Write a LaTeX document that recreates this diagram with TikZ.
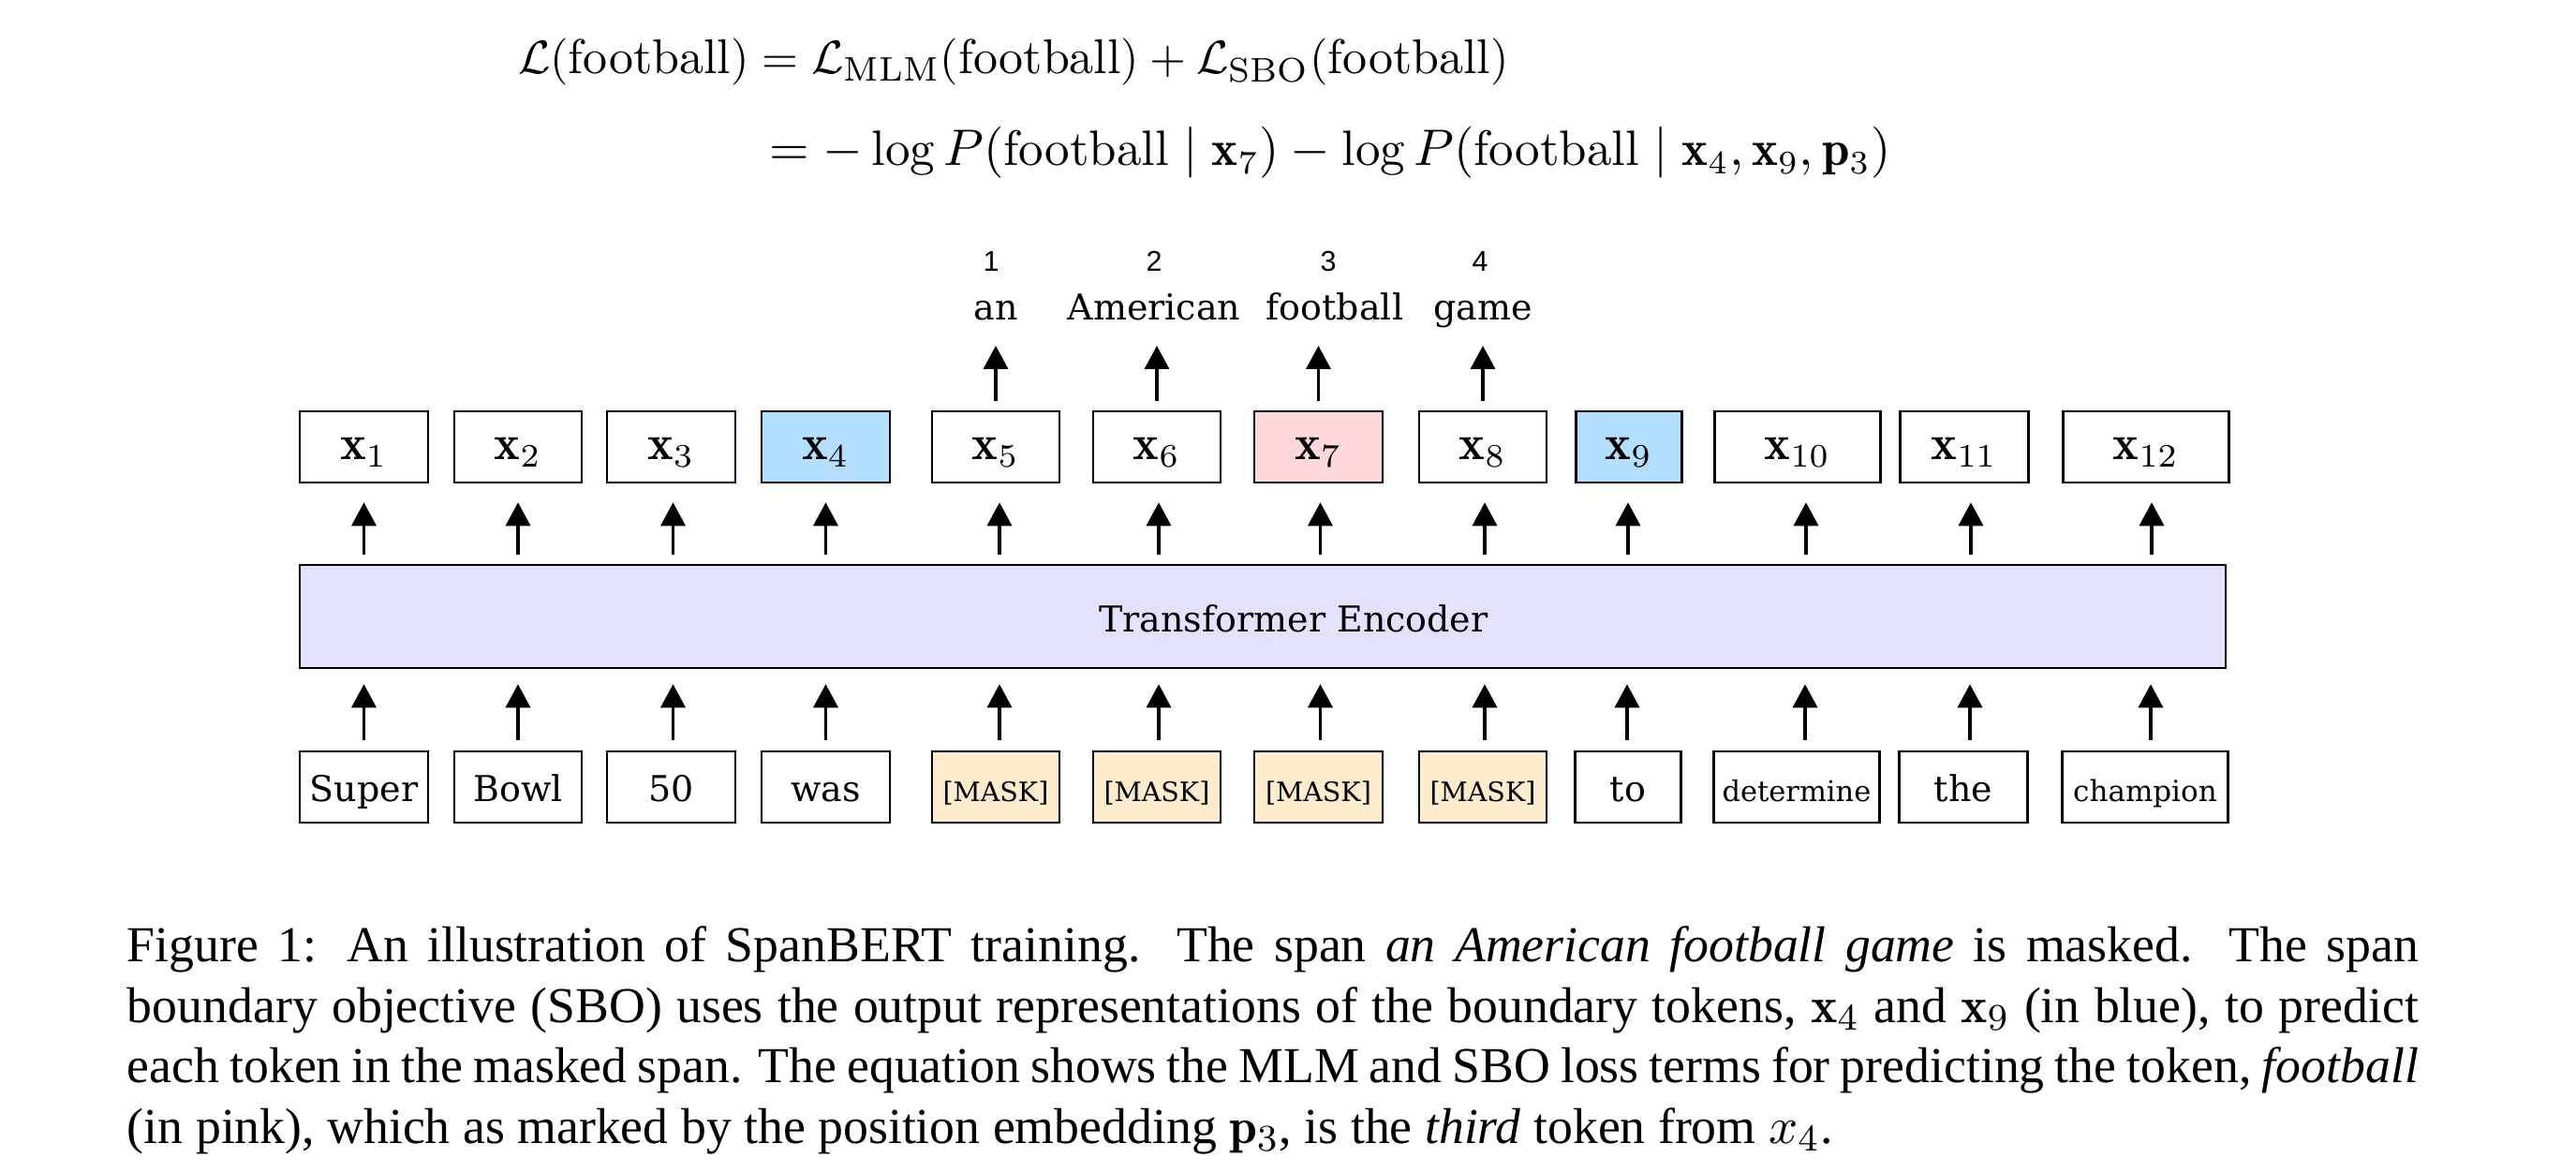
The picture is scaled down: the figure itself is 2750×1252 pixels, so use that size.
\documentclass[tikz,border=0pt]{standalone}
\usepackage{amsmath}
\usepackage{fontspec}
\newfontfamily\capfont{Liberation Serif}[ItalicFont={Liberation Serif Italic},BoldFont={Liberation Serif Bold}]
\newfontfamily\gfont{DejaVu Serif}
\newfontfamily\nfont{Liberation Sans}
\usetikzlibrary{arrows.meta,calc}
\definecolor{bluefill}{RGB}{179,222,255}
\definecolor{pinkfill}{RGB}{255,216,218}
\definecolor{maskfill}{RGB}{255,236,204}
\definecolor{encfill}{RGB}{226,226,255}
\tikzset{
  box/.style={draw, line width=0.5pt, minimum height=15.2pt, inner sep=0pt},
  xbox/.style={box, font=\fontsize{10.5}{12}\selectfont, text height=5.7pt, text depth=0.5pt},
  tbox/.style={box, font=\gfont\fontsize{7.6}{9}\selectfont, text height=6.5pt, text depth=0.5pt},
  maskbox/.style={tbox, fill=maskfill, font=\gfont\fontsize{5.7}{7}\selectfont},
  word/.style={font=\gfont\fontsize{7.6}{9}\selectfont, inner sep=0pt, anchor=base, text depth=0pt},
  num/.style={font=\nfont\fontsize{6.1}{7}\selectfont, inner sep=0pt, anchor=base},
  arr/.style={-{Triangle[length=5pt,width=5.2pt]}, line width=0.7pt},
}
\begin{document}
\begin{tikzpicture}[x=0.2pt,y=-0.2pt]
\useasboundingbox (0,0) rectangle (2750,1252);

% equation
\node[inner sep=0pt, anchor=base west, font=\fontsize{10.4}{12}\selectfont] (eq1) at (552,79)
  {$\mathcal{L}(\text{football}) = \mathcal{L}_{\text{MLM}}(\text{football}) + \mathcal{L}_{\text{SBO}}(\text{football})$};
\node[inner sep=0pt, anchor=base west, font=\fontsize{10.6}{12}\selectfont] (eq2) at (820,177)
  {$= -\log P(\text{football} \mid \mathbf{x}_7) - \log P(\text{football} \mid \mathbf{x}_4, \mathbf{x}_9, \mathbf{p}_3)$};

% encoder
\node[box, fill=encfill, minimum width=411.2pt, minimum height=22pt,
      font=\gfont\fontsize{7.6}{9}\selectfont, text height=7.3pt, text depth=0.5pt]
      (enc) at (1348,658) {\hspace*{13.2pt}Transformer Encoder};

% output boxes
\node[xbox, minimum width=27.4pt] (x1) at (388.5,477) {$\mathbf{x}_{1}$};
\node[xbox, minimum width=27.2pt] (x2) at (553,477) {$\mathbf{x}_{2}$};
\node[xbox, minimum width=27.4pt] (x3) at (716.5,477) {$\mathbf{x}_{3}$};
\node[xbox, minimum width=27.4pt, fill=bluefill] (x4) at (881.5,477) {$\mathbf{x}_{4}$};
\node[xbox, minimum width=27.2pt] (x5) at (1063,477) {$\mathbf{x}_{5}$};
\node[xbox, minimum width=27.2pt] (x6) at (1235,477) {$\mathbf{x}_{6}$};
\node[xbox, minimum width=27.4pt, fill=pinkfill] (x7) at (1407.5,477) {$\mathbf{x}_{7}$};
\node[xbox, minimum width=27.2pt] (x8) at (1583,477) {$\mathbf{x}_{8}$};
\node[xbox, minimum width=22.6pt, fill=bluefill] (x9) at (1739,477) {$\mathbf{x}_{9}$};
\node[xbox, minimum width=35.4pt] (x10) at (1919,477) {$\mathbf{x}_{10}$};
\node[xbox, minimum width=27.4pt] (x11) at (2097,477) {$\mathbf{x}_{11}$};
\node[xbox, minimum width=35.4pt] (x12) at (2291,477) {$\mathbf{x}_{12}$};

% input tokens
\node[tbox, minimum width=27.4pt] (b1) at (388.5,840) {Super};
\node[tbox, minimum width=27.2pt] (b2) at (553,840) {Bowl};
\node[tbox, minimum width=27.4pt] (b3) at (716.5,840) {50};
\node[tbox, minimum width=27.4pt] (b4) at (881.5,840) {was};
\node[maskbox, minimum width=27.2pt] (b5) at (1063,840) {[MASK]};
\node[maskbox, minimum width=27.2pt] (b6) at (1235,840) {[MASK]};
\node[maskbox, minimum width=27.4pt] (b7) at (1407.5,840) {[MASK]};
\node[maskbox, minimum width=27.2pt] (b8) at (1583,840) {[MASK]};
\node[tbox, minimum width=22.6pt] (b9) at (1738,840) {to};
\node[tbox, minimum width=35.4pt, font=\gfont\fontsize{6.1}{7}\selectfont] (b10) at (1918,840) {determine};
\node[tbox, minimum width=27.4pt] (b11) at (2096,840) {the};
\node[tbox, minimum width=35.4pt, font=\gfont\fontsize{6.2}{7}\selectfont] (b12) at (2290,840) {champion};

% predicted words
\node[word] (w5) at (1063,342) {an};
\node[word] (w6) at (1232,342) {American};
\node[word] (w7) at (1425,342) {football};
\node[word] (w8) at (1583,342) {game};
\node[num] (n1) at (1058,290) {1};
\node[num] (n2) at (1232,290) {2};
\node[num] (n3) at (1418,290) {3};
\node[num] (n4) at (1580,290) {4};

% arrows: tokens -> encoder
\foreach \i/\d in {1/0,2/0,3/2,4/0,5/4,6/2,7/2,8/2,9/-1,10/9,11/7,12/6}{
  \draw[arr, shorten <=2.2pt, shorten >=3.2pt] ($(b\i.north)+(\d,0)$) -- ($(b\i.north |- enc.south)+(\d,0)$);
}
% arrows: encoder -> outputs
\foreach \i/\d in {1/0,2/0,3/2,4/0,5/4,6/2,7/2,8/2,9/-1,10/9,11/7,12/6}{
  \draw[arr, shorten <=2pt, shorten >=4pt] ($(x\i.south |- enc.north)+(\d,0)$) -- ($(x\i.south)+(\d,0)$);
}
% arrows: outputs -> words
\foreach \i in {5,6,7,8}{
  \draw[arr, shorten <=2pt, shorten >=5.2pt] (x\i.north) -- (x\i.north |- w\i.south);
}

% caption
\node[inner sep=0pt, anchor=north west, text width=489.2pt, align=justify,
      font=\capfont\fontsize{10.75}{12.9}\selectfont] (cap) at (135,988)
{Figure 1: An illustration of SpanBERT training. The span \textit{an American football game} is masked. The span\linebreak
boundary objective (SBO) uses the output representations of the boundary tokens, $\mathbf{x}_4$ and $\mathbf{x}_9$ (in blue), to predict\linebreak
each token in the masked span. The equation shows the MLM and SBO loss terms for predicting the token, \textit{football}\linebreak
(in pink), which as marked by the position embedding $\mathbf{p}_3$, is the \textit{third} token from $x_4$.};
\end{tikzpicture}
\end{document}
